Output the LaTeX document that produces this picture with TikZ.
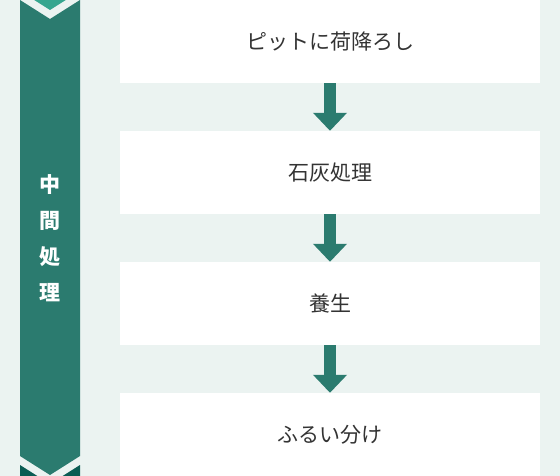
\documentclass[tikz,border=0pt]{standalone}
\usepackage{fontspec}
\newfontfamily\cjk{Noto Sans CJK JP}
\usetikzlibrary{arrows.meta}
\definecolor{pagebg}{HTML}{EBF3F1}
\definecolor{teal}{HTML}{2B7B6F}
\definecolor{tealprev}{HTML}{36A68F}
\definecolor{tealnext}{HTML}{0B5D54}
\definecolor{steptext}{HTML}{333333}
\tikzset{
  stepbox/.style={fill=white, minimum width=420pt, minimum height=83pt, inner sep=0pt,
    text=steptext, font=\cjk\fontsize{21}{24}\selectfont},
  flow/.style={draw=teal, line width=12pt, -{Triangle[width=33pt,length=18pt]}, shorten >=0pt}
}
\begin{document}
\begin{tikzpicture}[x=1pt,y=-1pt]
\useasboundingbox (0,0) rectangle (560,476);
\fill[pagebg] (0,0) rectangle (560,476);
\begin{scope}
\clip (0,0) rectangle (560,476);
% chevron band
\fill[tealprev] (20,-60) -- (80,-60) -- (80,-9) -- (50,10) -- (20,-9) -- cycle;
\fill[teal] (20,0) -- (50,19) -- (80,0) -- (80,456) -- (50,475) -- (20,456) -- cycle;
\fill[tealnext] (20,465) -- (50,484) -- (80,465) -- (80,530) -- (20,530) -- cycle;
\end{scope}
\node[text=white, align=center, font=\cjk\bfseries\fontsize{21}{36}\selectfont] (lbl) at (50,238) {中\\間\\処\\理};

\node[stepbox] (s1) at (330,41.5) {ピットに荷降ろし};
\node[stepbox] (s2) at (330,172.5) {石灰処理};
\node[stepbox] (s3) at (330,303.5) {養生};
\node[stepbox] (s4) at (330,434.5) {ふるい分け};

\draw[flow] (s1.south) -- (s2.north);
\draw[flow] (s2.south) -- (s3.north);
\draw[flow] (s3.south) -- (s4.north);
\end{tikzpicture}
\end{document}
